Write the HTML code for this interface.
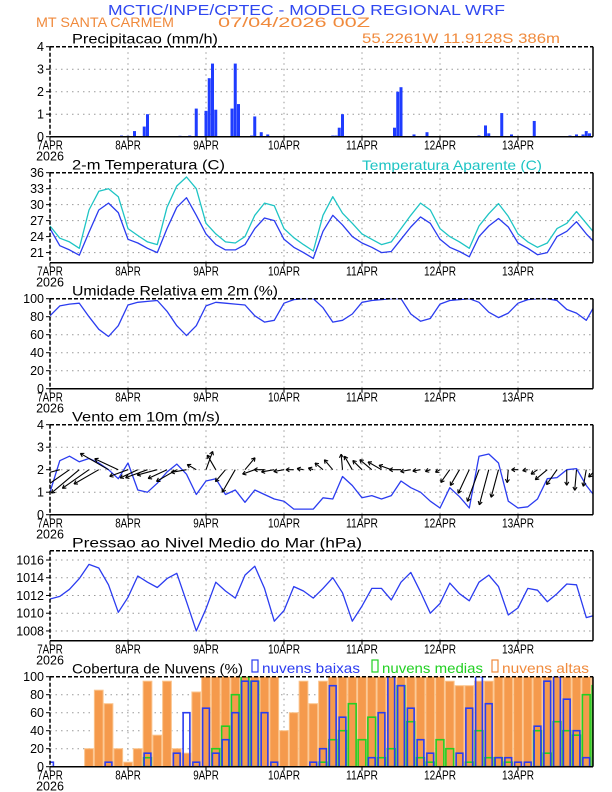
<!DOCTYPE html>
<html><head><meta charset="utf-8"><style>
html,body{margin:0;padding:0;background:#fff}
svg{display:block;font-family:"Liberation Sans",sans-serif}
</style></head><body>
<svg id="chart" width="612" height="792" viewBox="0 0 612 792" xmlns="http://www.w3.org/2000/svg">
<text x="108" y="15" font-size="14.5" fill="#2f47f0" textLength="397" lengthAdjust="spacingAndGlyphs">MCTIC/INPE/CPTEC - MODELO REGIONAL WRF</text>
<text x="36" y="27" font-size="13.5" fill="#f08a3c" textLength="138" lengthAdjust="spacingAndGlyphs">MT SANTA CARMEM</text>
<text x="218" y="27" font-size="13.5" fill="#f08a3c" textLength="152" lengthAdjust="spacingAndGlyphs">07/04/2026 00Z</text>
<text x="362" y="43" font-size="14" fill="#f08a3c" textLength="198" lengthAdjust="spacingAndGlyphs">55.2261W 11.9128S 386m</text>
<g id="plots"></g>
</svg>
<script>
// ---- data (hourly index / 3-hourly samples) ----
const dayLabels = ["7APR","8APR","9APR","10APR","11APR","12APR","13APR"];
const precipHours = [22,24,26,29,30,38,40,43,45,48,49,50,51,56,57,58,62,63,65,67,87,88,89,90,106,107,108,112,116,132,134,135,139,142,149,160,162,164,165,166];
const precipVals  = [0.05,0.04,0.25,0.45,1.0,0.03,0.04,0.05,1.25,1.15,2.6,3.25,1.2,1.25,3.25,1.45,0.05,0.9,0.2,0.1,0.05,0.05,0.4,1.0,0.4,2.0,2.2,0.1,0.2,0.05,0.5,0.15,1.05,0.1,0.7,0.05,0.1,0.1,0.25,0.15];
const temp = [25.5,22.3,21.5,20.5,24.8,29,30.3,28.5, 23.5,22.8,21.8,21,25.5,29.5,31.3,28, 24.5,22.5,21.5,21.5,22.5,25.5,27.5,27, 23.5,22,21,19.9,25,28,26.2,24, 22.8,22,21,21.2,23.5,25.8,27.7,26.5, 23.5,22,21.2,20.2,24,26,27.4,25.8, 22.8,21.8,20.6,21,24,25,26.8,24.5,22.6];
const tempApp = [26,23.7,23,21.8,29,32.5,33,31.5, 25.5,24.2,23,22.5,29.5,33.5,35.2,33, 26.5,24.5,23,22.8,24,28,30.3,29.8, 25.5,23.8,22.5,21.3,28,31.5,28.4,26.5, 24.5,23.5,22.5,23,25.5,28,30.3,29, 25.5,24,23,21.8,26,28.3,30.2,27.8, 24.5,23,22,22.8,25.5,26.5,28.7,26.5,24.3];
const rh = [81,92,94,95,80,66,58,70, 93,96,97,98,86,70,59,70, 92,96,95,94,93,81,74,76, 95,99,100,100,90,74,76,83, 96,98,99,100,100,83,75,78, 94,98,99,100,96,85,79,84, 95,99,100,100,98,88,84,76,95];
const windSpeed = [1.0,2.4,2.6,2.35,2.5,2.3,2.0,1.6, 2.3,1.1,1.0,1.4,1.9,2.25,1.8,0.9, 1.5,1.6,0.9,1.1,0.55,1.1,0.9,0.7, 0.6,0.25,0.25,0.25,0.75,0.7,1.7,1.3, 0.75,0.85,0.7,0.85,1.5,1.2,1.0,0.6, 0.3,1.2,0.8,0.3,2.6,2.7,2.3,0.6, 0.3,0.35,0.7,1.6,1.65,2.0,2.05,1.3,0.75];
const arrowDir = [185,195,215,220,215,210,150,155, 200,205,200,195,205,210,190,150, 70,120,230,240,50,200,180,190, 190,180,170,160,140,130,95,120, 135,140,150,160,180,190,190,200, 210,235,240,245,250,255,255,265, 180,190,215,220,235,270,265,260,225];
const arrowMag = [0.5,1.2,2.5,2.8,2.5,2.2,2.5,2.0, 1.5,1.5,1.8,1.6,1.6,1.8,1.2,0.8, 1.5,1.3,1.2,2.0,1.2,1.0,0.8,1.0, 0.8,0.6,0.5,0.4,0.8,1.0,1.2,1.2, 1.0,1.2,1.2,1.0,0.9,0.8,0.6,0.4, 0.4,1.2,1.4,2.0,2.6,2.8,2.2,1.0, 0.5,0.4,0.6,1.2,1.4,1.2,1.6,1.3,0.8];
const pres = [1011.6,1011.9,1012.7,1013.9,1015.5,1015.1,1013.2,1010.1, 1011.8,1014.2,1013.5,1012.9,1013.9,1014.5,1011.3,1008, 1010.5,1013.5,1012.5,1011.7,1014.3,1015.3,1012.8,1009.1, 1010.3,1013,1012.5,1011.7,1012.8,1014,1012.3,1009.1, 1010.8,1012.8,1012.8,1011.5,1013.5,1014.6,1012.4,1010, 1011.1,1013.4,1012.2,1011.4,1013.5,1014.3,1013,1009.8, 1010.6,1012.8,1012.6,1011.3,1012.2,1013.3,1013.2,1009.5,1009.8];
const cloudHigh = [0,0,0,0,20,85,70,20, 5,20,95,35,95,20,15,83, 100,100,100,100,100,100,100,100, 40,60,95,70,95,100,100,100, 100,100,100,100,100,100,100,100, 100,95,90,90,95,95,100,100, 100,100,100,100,100,100,100,100,100];
const cloudMid = [0,0,0,0,0,0,0,0, 0,0,10,0,0,0,0,0, 0,20,45,80,100,95,0,0, 0,0,0,0,5,30,40,70, 30,55,10,20,90,50,10,5, 30,20,0,5,40,10,10,5, 0,0,40,15,50,40,35,80,90];
const cloudLow = [5,0,0,0,0,0,5,0, 0,0,15,0,0,15,60,5, 65,15,30,60,95,95,60,5, 0,0,0,5,20,90,55,0, 0,10,60,100,90,65,30,15, 0,0,15,65,100,70,10,10, 5,5,45,95,100,75,40,10,0];

// ---- geometry ----
const NS="http://www.w3.org/2000/svg";
const X0=50, X1=593, PH=90, HW=3.25;
const tops=[46.7,172.7,298.7,424.7,550.7,676.7];
const xh = h => X0 + h*HW;
const xk = k => xh(3*k);
const root=document.getElementById('plots');
function mk(tag, attrs, parent){const e=document.createElementNS(NS,tag);for(const a in attrs)e.setAttribute(a,attrs[a]);(parent||root).appendChild(e);return e;}
function yScale(top,min,max){return v=>top+PH-(v-min)/(max-min)*PH;}

function panel(i,name,title,titleLen,min,max,ticks){
  const top=tops[i], g=mk('g',{});
  
  
  const y=yScale(top,min,max);
  const t=mk('text',{x:72,y:top-3,'font-size':14,textLength:titleLen,lengthAdjust:'spacingAndGlyphs'},g);
  t.textContent=title;
  
  
  ticks.forEach(v=>{ if(v>min+0.01&&v<max-0.01){const l=mk('line',{x1:X0,x2:X1,y1:y(v),y2:y(v),stroke:'#9a9a9a','stroke-dasharray':'1.5,4'},g);
     }});
  for(let d=1;d<7;d++){const l=mk('line',{x1:xh(24*d),x2:xh(24*d),y1:top,y2:top+PH,stroke:'#9a9a9a','stroke-dasharray':'1.5,4'},g);
     }
  ticks.forEach(v=>{const ty=y(v);
    mk('line',{x1:X0-4,x2:X0,y1:ty,y2:ty,stroke:'#000'},g);
    const lb=mk('text',{x:X0-6,y:ty+4.5,'font-size':12.5,'text-anchor':'end'},g);
    lb.textContent=v;
     });
  dayLabels.forEach((d,j)=>{const tx=xh(24*j);
    mk('line',{x1:tx,x2:tx,y1:top+PH,y2:top+PH+4,stroke:'#000'},g);
    const lb=mk('text',{x:tx,y:top+PH+13,'font-size':12.5,'text-anchor':'middle',textLength:d.length*6.4,lengthAdjust:'spacingAndGlyphs'},g);
    lb.textContent=d;
     });
  const yr=mk('text',{x:X0,y:top+PH+24,'font-size':12.5,'text-anchor':'middle'},g);
  yr.textContent='2026';
   
  const cp=mk('clipPath',{id:'cp'+i},g); mk('rect',{x:X0,y:top,width:X1-X0,height:PH},cp);
  const data=mk('g',{'clip-path':'url(#cp'+i+')'},g);
   
  return {g,data,y,top,finish:()=>{
    mk('line',{x1:X0,x2:X1,y1:top,y2:top,stroke:'#000','stroke-width':1.5,'stroke-dasharray':'4,2'},g);
    mk('line',{x1:X0,x2:X0,y1:top,y2:top+PH,stroke:'#000','stroke-width':1.5,'stroke-dasharray':'4,2'},g);
    mk('line',{x1:X0,x2:X1,y1:top+PH,y2:top+PH,stroke:'#000','stroke-width':1.5},g);
    mk('line',{x1:X1,x2:X1,y1:top,y2:top+PH,stroke:'#000','stroke-width':1.5},g);
  }};
}
function line(p,arr,color,name,w){
  const pts=arr.map((v,k)=>xk(k).toFixed(1)+','+p.y(v).toFixed(1)).join(' ');
  const pl=mk('polyline',{points:pts,fill:'none',stroke:color,'stroke-width':w||1.3,'stroke-linejoin':'round'},p.data);
   
}

// Panel 1: precipitation
let p=panel(0,'precip','Precipitacao (mm/h)',146,0,4,[0,1,2,3,4]);
precipHours.forEach((h,j)=>{const v=precipVals[j];
  const r=mk('rect',{x:xh(h)-1.5,y:p.y(v),width:3,height:p.y(0)-p.y(v),fill:'#1f3cff'},p.data);
   });
p.finish();

// Panel 2: temperature
p=panel(1,'temperature','2-m Temperatura (C)',153,19.1,36,[21,24,27,30,33,36]);
const lg=mk('text',{x:362,y:170,'font-size':14,fill:'#1ec4c4',textLength:180,lengthAdjust:'spacingAndGlyphs'},p.g);
lg.textContent='Temperatura Aparente (C)';
 
line(p,tempApp,'#1ec4c4','apparent-temp-line');
line(p,temp,'#2b3cf0','temp-line');
p.finish();

// Panel 3: humidity
p=panel(2,'humidity','Umidade Relativa em 2m (%)',206,0,100,[0,20,40,60,80,100]);
line(p,rh,'#2b3cf0','humidity-line');
p.finish();

// Panel 4: wind
p=panel(3,'wind','Vento em 10m (m/s)',148,0,4,[0,1,2,3,4]);
line(p,windSpeed,'#2b3cf0','wind-speed-line');
arrowDir.forEach((d,k)=>{const L=arrowMag[k]*13, a=d*Math.PI/180;
  const x1=xk(k), y1=p.y(2), x2=x1+L*Math.cos(a), y2=y1-L*Math.sin(a);
  const ag=mk('g',{},p.data);
   
  mk('line',{x1:x1,y1:y1,x2:x2,y2:y2,stroke:'#000','stroke-width':1.1},ag);
  const hs=4;[a+2.6,a-2.6].forEach(b=>mk('line',{x1:x2,y1:y2,x2:x2+hs*Math.cos(b),y2:y2-hs*Math.sin(b),stroke:'#000','stroke-width':1.1},ag));
});
p.finish();

// Panel 5: pressure
p=panel(4,'pressure','Pressao ao Nivel Medio do Mar (hPa)',290,1006.9,1017.05,[1008,1010,1012,1014,1016]);
line(p,pres,'#2b3cf0','pressure-line');
p.finish();

// Panel 6: clouds
p=panel(5,'clouds','Cobertura de Nuvens (%)',171,0,100,[0,20,40,60,80,100]);
const bw=3*HW;
cloudHigh.forEach((v,k)=>{const r=mk('rect',{x:xk(k)-bw/2+0.5,y:p.y(v),width:bw-1,height:p.y(0)-p.y(v),fill:'#f59a4c',stroke:'#fbc48c','stroke-width':1},p.data);
   });
cloudMid.forEach((v,k)=>{const r=mk('rect',{x:xk(k)-bw/2+1,y:p.y(v),width:bw-2,height:p.y(0)-p.y(v),fill:'none',stroke:'#22d022','stroke-width':1.6},p.data);
   });
cloudLow.forEach((v,k)=>{const r=mk('rect',{x:xk(k)-bw/2+1.5,y:p.y(v),width:bw-3,height:p.y(0)-p.y(v),fill:'none',stroke:'#2b3cf0','stroke-width':1.6},p.data);
   });
const legends=[[252,'#2b3cf0','nuvens baixas',98,'legend-low-clouds'],[372,'#22d022','nuvens medias',101,'legend-mid-clouds'],[492,'#f08a3c','nuvens altas',87,'legend-high-clouds']];
legends.forEach(l=>{const lgG=mk('g',{},p.g);
   
  mk('rect',{x:l[0],y:660,width:6,height:12,fill:'none',stroke:l[1],'stroke-width':1.2},lgG);
  const t=mk('text',{x:l[0]+10,y:673,'font-size':14,fill:l[1],textLength:l[3],lengthAdjust:'spacingAndGlyphs'},lgG);
  t.textContent=l[2];});
p.finish();
</script>
</body></html>
